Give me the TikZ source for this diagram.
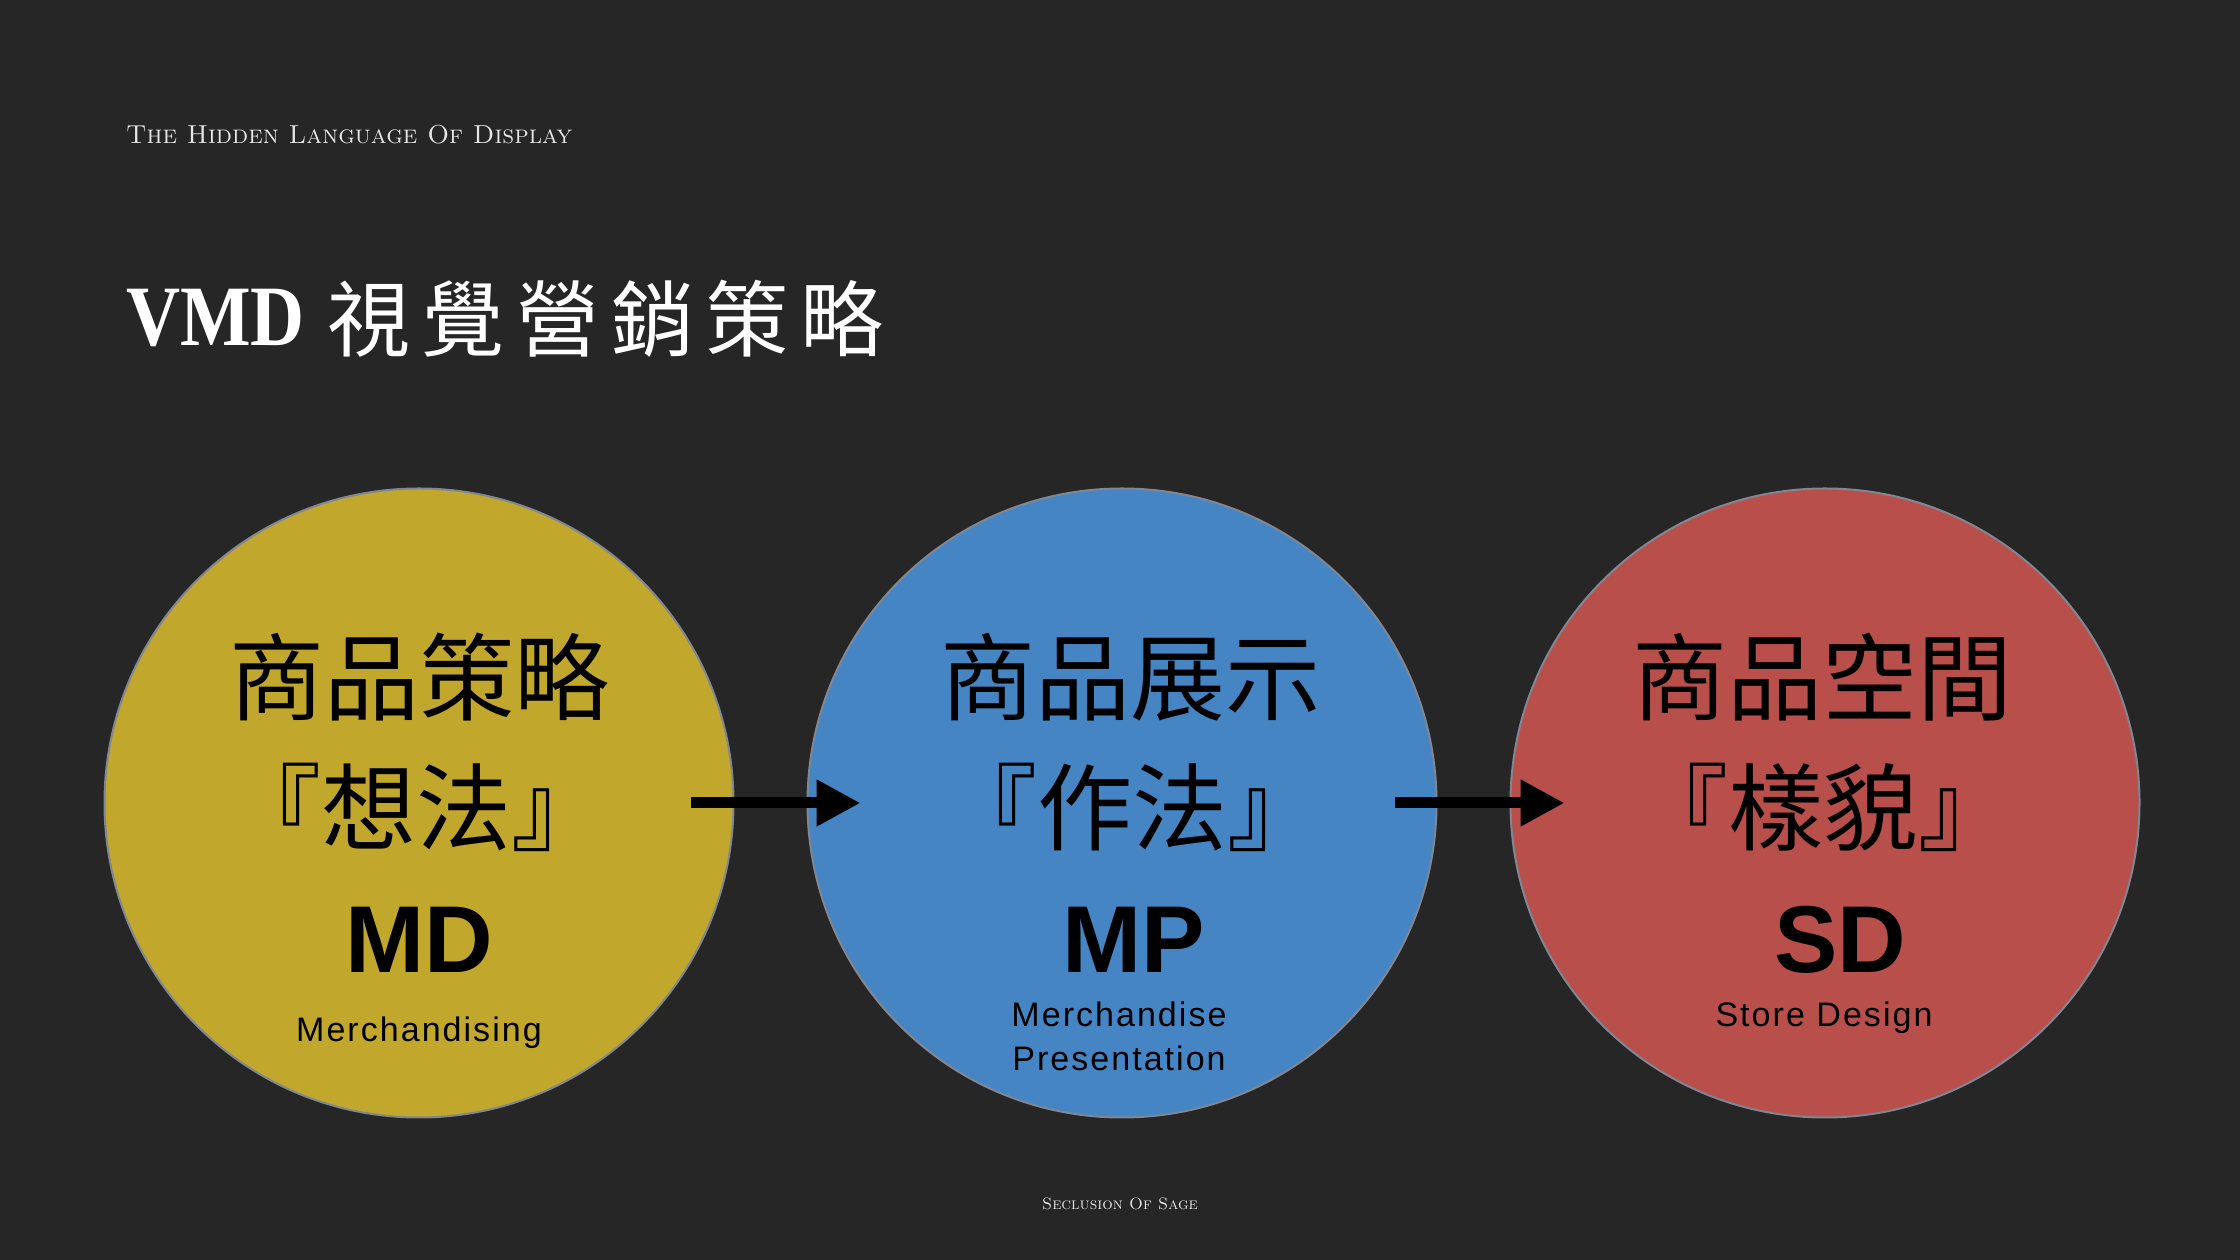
\documentclass[tikz,border=0pt]{standalone}
\usepackage{fontspec}
\newfontfamily\cjkfont{Noto Sans CJK TC}
\newfontfamily\cjkwide[LetterSpace=14]{Noto Sans CJK TC}
\newfontfamily\vmdfont[FakeStretch=0.87]{Liberation Serif}
\newfontfamily\helv{Liberation Sans}
\newfontfamily\helvwide[LetterSpace=6]{Liberation Sans}
\usepackage{tikz}
\usetikzlibrary{arrows.meta,positioning}

\definecolor{slate}{RGB}{38,38,38}
\definecolor{mdgold}{RGB}{193,167,43}
\definecolor{mpblue}{RGB}{69,133,196}
\definecolor{sdred}{RGB}{185,79,75}
\definecolor{rim}{RGB}{128,134,146}
\definecolor{paper}{RGB}{230,230,230}

\begin{document}
\begin{tikzpicture}[
      x=1pt, y=1pt,
      node distance=72pt,
      disc/.style={circle, draw=rim, line width=2pt, minimum size=629pt, inner sep=0pt},
      idea/.style={anchor=base, inner sep=0pt, font=\fontsize{95}{95}\selectfont\cjkfont},
      abbr/.style={anchor=base, inner sep=0pt, font=\fontsize{95}{95}\selectfont\helv\bfseries},
      gloss/.style={anchor=north, inner sep=0pt, align=center, font=\fontsize{34}{44}\selectfont\helvwide},
      flow/.style={-{Triangle[length=44pt, width=44pt]}, line width=11pt}
    ]
    \fill[slate] (0,0) rectangle (2240,1260);

    % Header and title
    \node[anchor=base west, inner sep=0pt, text=paper, font=\fontsize{26}{26}\selectfont\scshape] (series) at (126,1116) {The Hidden Language Of Display};
    \node[anchor=base west, inner sep=0pt, text=white, font=\fontsize{86}{86}\selectfont\vmdfont\bfseries] (vmd) at (126,914) {VMD};
    \node[right=22pt of vmd, inner sep=0pt, text=white, font=\fontsize{83}{83}\selectfont\cjkwide] (head) {視覺營銷策略};

    % The three stages
    \node[disc, fill=mdgold] (md) at (419,457) {};
    \node[disc, fill=mpblue, right=of md] (mp) {};
    \node[disc, fill=sdred, right=of mp] (sd) {};

    % MD: merchandising
    \node[idea] (mdtop) at ([yshift=89pt]md.center) {商品策略};
    \node[idea] (mdmid) at ([xshift=-3pt, yshift=-41pt]md.center) {『想法』};
    \node[abbr] (mdab) at ([yshift=-170pt]md.center) {MD};
    \node[gloss] (mdgl) at ([yshift=-214pt]md.center) {Merchandising};

    % MP: merchandise presentation
    \node[idea] (mptop) at ([xshift=8pt, yshift=89pt]mp.center) {商品展示};
    \node[idea] (mpmid) at ([xshift=10pt, yshift=-41pt]mp.center) {『作法』};
    \node[abbr] (mpab) at ([xshift=12pt, yshift=-170pt]mp.center) {MP};
    \node[gloss] (mpgl) at ([xshift=-3pt, yshift=-199pt]mp.center) {Merchandise\\Presentation};

    % SD: store design
    \node[idea] (sdtop) at ([xshift=-3pt, yshift=89pt]sd.center) {商品空間};
    \node[idea] (sdmid) at ([xshift=-2pt, yshift=-41pt]sd.center) {『樣貌』};
    \node[abbr] (sdab) at ([xshift=15pt, yshift=-170pt]sd.center) {SD};
    \node[gloss] (sdgl) at ([xshift=-1pt, yshift=-199pt]sd.center) {Store Design};

    % Arrows reach into both discs
    \draw[flow, shorten <=-44pt, shorten >=-54pt] (md.east) -- (mp.west);
    \draw[flow, shorten <=-43pt, shorten >=-55pt] (mp.east) -- (sd.west);

    % Footer
    \node[anchor=base, inner sep=0pt, text=paper, font=\fontsize{16.5}{16.5}\selectfont\scshape] (credit) at (1120,50) {Seclusion Of Sage};
  \end{tikzpicture}
\end{document}
